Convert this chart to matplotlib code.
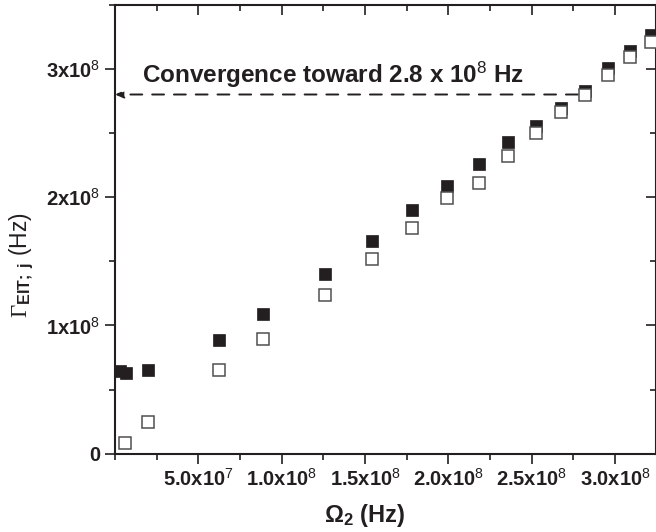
import matplotlib
matplotlib.use("Agg")
import matplotlib.pyplot as plt
from matplotlib.ticker import MultipleLocator, FixedLocator

plt.rcParams['font.family'] = ['Liberation Sans', 'DejaVu Sans']
plt.rcParams['mathtext.fontset'] = 'custom'
plt.rcParams['mathtext.rm'] = 'Liberation Serif'
plt.rcParams['mathtext.sf'] = 'Liberation Sans'
plt.rcParams['mathtext.bf'] = 'Liberation Sans:bold'
plt.rcParams['mathtext.it'] = 'Liberation Sans:italic'

# Data (Hz)
omega_filled = [0.030e8, 0.066e8, 0.195e8, 0.623e8, 0.887e8, 1.259e8, 1.541e8, 1.781e8,
                1.990e8, 2.182e8, 2.356e8, 2.524e8, 2.677e8, 2.818e8, 2.959e8, 3.088e8, 3.213e8]
gamma_filled = [0.648e8, 0.629e8, 0.652e8, 0.886e8, 1.089e8, 1.401e8, 1.658e8, 1.896e8,
                2.087e8, 2.258e8, 2.429e8, 2.554e8, 2.697e8, 2.827e8, 3.009e8, 3.139e8, 3.261e8]
omega_open = [0.060e8, 0.195e8, 0.623e8, 0.887e8, 1.259e8, 1.541e8, 1.781e8,
              1.990e8, 2.182e8, 2.356e8, 2.524e8, 2.677e8, 2.818e8, 2.959e8, 3.088e8, 3.213e8]
gamma_open = [0.087e8, 0.251e8, 0.655e8, 0.892e8, 1.237e8, 1.515e8, 1.763e8,
              1.993e8, 2.114e8, 2.320e8, 2.496e8, 2.666e8, 2.796e8, 2.953e8, 3.096e8, 3.209e8]

conv_value = 2.8e8
conv_x_end = 2.776e8

xticks = [5.0e7, 1.0e8, 1.5e8, 2.0e8, 2.5e8, 3.0e8]
xticklabels = ['5.0x10$^{\\mathsf{7}}$', '1.0x10$^{\\mathsf{8}}$', '1.5x10$^{\\mathsf{8}}$',
               '2.0x10$^{\\mathsf{8}}$', '2.5x10$^{\\mathsf{8}}$', '3.0x10$^{\\mathsf{8}}$']
yticks = [0, 1e8, 2e8, 3e8]
yticklabels = ['0', '1x10$^{\\mathsf{8}}$', '2x10$^{\\mathsf{8}}$', '3x10$^{\\mathsf{8}}$']

ink = '#231f20'

fig = plt.figure(figsize=(6.56, 5.32), dpi=100)
ax = fig.add_axes([115/656, (532-453.7)/532, (656-115)/656, (453.7-4.7)/532])

ax.plot(omega_filled, gamma_filled, linestyle='none', marker='s', markersize=8.6,
        markerfacecolor=ink, markeredgecolor=ink, markeredgewidth=0.5, zorder=3)
ax.plot(omega_open, gamma_open, linestyle='none', marker='s', markersize=8.0,
        markerfacecolor='white', markeredgecolor='#505050', markeredgewidth=1.1, zorder=4)

ax.annotate('', xy=(0, conv_value), xytext=(conv_x_end, conv_value),
            arrowprops=dict(arrowstyle='-|>,head_length=0.5,head_width=0.22', color=ink,
                            lw=1.4, linestyle=(0, (6.1, 5.1)), shrinkA=0, shrinkB=0), zorder=2)
ax.text(0.162e8, 2.889e8, 'Convergence toward 2.8 x 10$^{\\mathsf{8}}$ Hz',
        fontsize=17.5, fontweight='bold', color=ink, va='baseline', ha='left')

ax.set_xlim(0, 3.245e8)
ax.set_ylim(0, 3.5e8)

ax.xaxis.set_major_locator(FixedLocator(xticks))
ax.set_xticklabels(xticklabels)
ax.xaxis.set_minor_locator(MultipleLocator(2.5e7))
ax.yaxis.set_major_locator(FixedLocator(yticks))
ax.set_yticklabels(yticklabels)
ax.yaxis.set_minor_locator(MultipleLocator(0.5e8))

for s in ax.spines.values():
    s.set_linewidth(1.5)
    s.set_color(ink)

ax.tick_params(which='both', direction='out', top=False, right=False, color=ink, width=1.2)
ax.tick_params(which='major', length=7, labelsize=14.5, pad=3)
ax.tick_params(axis='y', which='major', pad=3.5)
ax.tick_params(which='minor', length=4)
for lab in ax.get_xticklabels() + ax.get_yticklabels():
    lab.set_fontweight('bold')
    lab.set_color(ink)

# mirrored inward ticks on top/right
ax2 = ax.secondary_xaxis('top')
ax2.xaxis.set_major_locator(FixedLocator(xticks))
ax2.xaxis.set_minor_locator(MultipleLocator(2.5e7))
ax2.tick_params(which='both', direction='in', labeltop=False, color=ink, width=1.2)
ax2.tick_params(which='major', length=7)
ax2.tick_params(which='minor', length=4)
ax2.spines['top'].set_visible(False)
ax3 = ax.secondary_yaxis('right')
ax3.yaxis.set_major_locator(FixedLocator(yticks))
ax3.yaxis.set_minor_locator(MultipleLocator(0.5e8))
ax3.tick_params(which='both', direction='in', labelright=False, color=ink, width=1.2)
ax3.tick_params(which='major', length=7)
ax3.tick_params(which='minor', length=4)
ax3.spines['right'].set_visible(False)

ax.set_ylabel('$\\Gamma_{\\mathbf{EIT;\\ j}}$ (Hz)', fontsize=16.5, color=ink)
ax.yaxis.set_label_coords((36-115)/541, 0.42)
ax.set_xlabel('$\\mathbf{\\Omega_{2}}$ (Hz)', fontsize=17, fontweight='bold', color=ink)
ax.xaxis.set_label_coords((365-115)/541, -0.107)
ax.xaxis.label.set_verticalalignment('top')

fig.savefig('out.png', dpi=100)
